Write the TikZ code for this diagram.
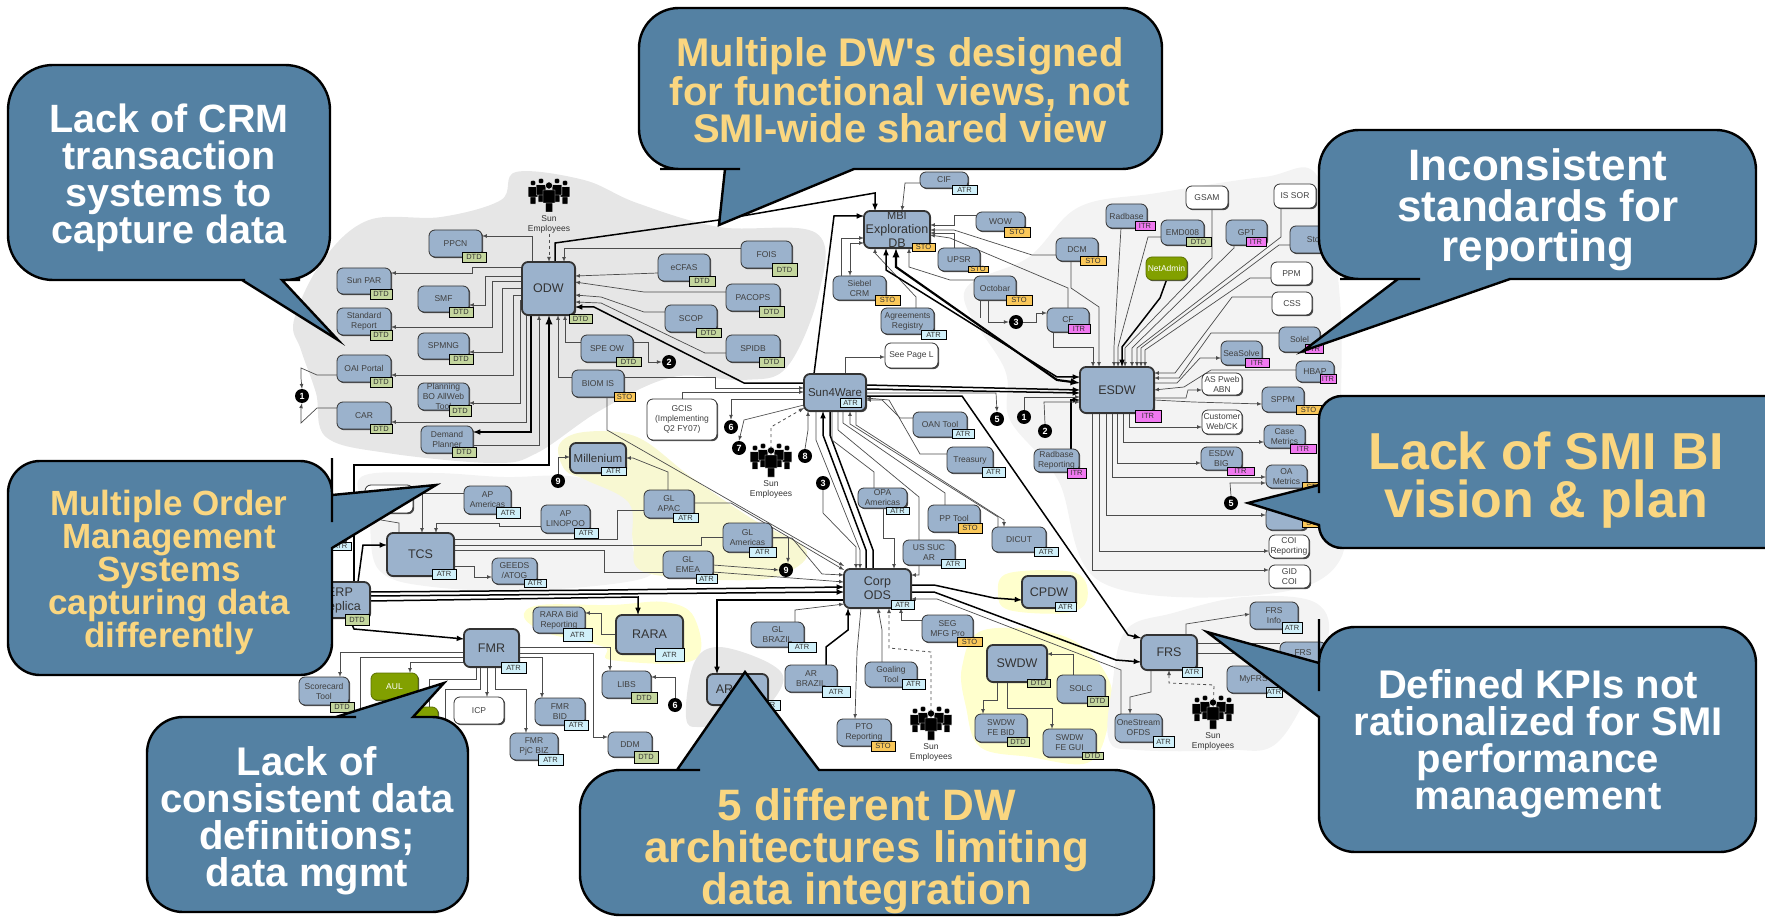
\documentclass[tikz,border=0pt]{standalone}
\usepackage{fontspec}
\setmainfont{Liberation Sans}
\usepackage{tikz}
\usetikzlibrary{shadows}

\definecolor{boxblue}{RGB}{155,178,204}
\definecolor{bubbleblue}{RGB}{84,129,163}
\definecolor{bubblegold}{RGB}{250,214,128}
\definecolor{appgreen}{RGB}{130,160,0}
\definecolor{dtdcol}{RGB}{196,214,158}
\definecolor{atrcol}{RGB}{208,240,250}
\definecolor{stocol}{RGB}{250,200,90}
\definecolor{itrcol}{RGB}{240,120,240}
\definecolor{greyblob}{RGB}{230,230,230}
\definecolor{paleblob}{RGB}{243,243,243}
\definecolor{yellowblob}{RGB}{255,255,205}
\definecolor{glblob}{RGB}{248,248,210}

\pgfdeclarelayer{blobs}
\pgfdeclarelayer{links}
\pgfdeclarelayer{bubbles}
\pgfsetlayers{blobs,links,main,bubbles}

\tikzset{
  sysbox/.style={draw=black!80,fill=boxblue,rounded corners=6pt,line width=.8pt,inner sep=0pt,outer sep=0pt,
    align=center,text=black!75,font=\fontsize{8.5}{10}\selectfont,
    drop shadow={shadow xshift=1.2pt,shadow yshift=-1.2pt,fill=black!70,opacity=1}},
  hubbox/.style={sysbox,line width=1.8pt,text=black!80,font=\fontsize{12.5}{14}\selectfont},
  whitebox/.style={sysbox,fill=white},
  greenbox/.style={sysbox,fill=appgreen,draw=appgreen!70!black,text=white},
  tagbox/.style={draw=black,line width=.7pt,inner sep=0pt,outer sep=0pt,font=\fontsize{7.5}{8}\selectfont,text=black!80},
  DTD/.style={fill=dtdcol},
  ATR/.style={fill=atrcol},
  STO/.style={fill=stocol},
  ITR/.style={fill=itrcol},
  marker/.style={circle,fill=black,text=white,inner sep=0pt,minimum size=14pt,font=\bfseries\fontsize{9}{9}\selectfont},
  stafflabel/.style={align=center,inner sep=0pt,text=black!80,font=\fontsize{8.5}{10.5}\selectfont},
  link/.style={draw=black!70,line width=.7pt},
  heavy/.style={draw=black,line width=1.5pt},
  vheavy/.style={draw=black,line width=2.2pt},
  staffdash/.style={draw=black!70,line width=.8pt,dashed},
  bubble/.style={draw=black,fill=bubbleblue,line width=2.4pt},
  bubbletext/.style={align=center,inner sep=0pt,font=\bfseries},
  people/.pic={
    \foreach \px/\py/\ps in {-16/-3/.8,16/-3/.8,-8/-5/.8,8/-5/.8,0/2/1}
      \filldraw[fill=black,draw=white,line width=.4pt,shift={(\px,\py)},scale=\ps]
        (0,-12.5) circle (3.6pt) (-6,-8) rectangle (6,5) (-3.5,5) rectangle (3.5,14);
  }
}

\begin{document}
\begin{tikzpicture}[x=1pt,y=-1pt,>=latex]
\useasboundingbox (0,0) rectangle (1765,917);

% background regions
\begin{pgfonlayer}{blobs}
\fill[greyblob] plot[smooth cycle,tension=.6] coordinates {(516,172) (584,180) (637,203) (719,227) (816,233) (819,293) (787,367) (744,380) (673,377) (601,410) (537,453) (494,463) (387,453) (326,437) (316,393) (301,350) (294,320) (323,260) (369,220) (441,217) (501,200)};
\fill[paleblob] plot[smooth cycle,tension=.6] coordinates {(361,477) (433,473) (504,477) (576,477) (629,500) (633,550) (647,577) (540,590) (433,587) (379,570) (369,517)};
\fill[glblob] plot[smooth cycle,tension=.6] coordinates {(559,445) (584,432) (637,437) (691,477) (754,520) (804,547) (797,567) (754,580) (647,573) (633,543) (629,503) (586,480) (565,470)};
\fill[yellowblob] plot[smooth cycle,tension=.6] coordinates {(524,617) (540,605) (611,605) (665,602) (694,617) (694,660) (611,660) (604,647) (547,633)};
\fill[yellowblob] plot[smooth cycle,tension=.6] coordinates {(998,593) (1009,573) (1076,573) (1087,600) (1066,613) (1009,610)};
\fill[yellowblob] plot[smooth cycle,tension=.6] coordinates {(962,667) (984,630) (1066,637) (1109,680) (1107,730) (1087,763) (1030,757) (980,747) (966,707)};
\fill[greyblob] plot[smooth cycle,tension=.6] coordinates {(686,717) (694,663) (719,647) (769,663) (783,683) (754,717) (701,727)};
\fill[paleblob] plot[smooth cycle,tension=.6] coordinates {(964,293) (1029,257) (1079,207) (1157,193) (1264,177) (1318,177) (1340,300) (1340,450) (1340,560) (1258,595) (1101,582) (1058,480) (1010,420) (1005,370)};
\fill[paleblob] plot[smooth cycle,tension=.6] coordinates {(1126,630) (1173,613) (1244,597) (1316,603) (1326,647) (1280,740) (1226,750) (1137,750) (1109,740) (1112,687)};
\end{pgfonlayer}

% big systems
\foreach \nm/\lx/\ty/\rx/\by/\txt in {
  odw/522/262/575/315/ODW, mbi/864/211/930/248/{\fontsize{11}{12}\selectfont MBI\\Exploration\\DB}, sunware/804/374/866/411/{\fontsize{11.5}{12}\selectfont Sun4Ware},
  esdw/1080/367/1154/413/ESDW, corp/844/569/911/608/{Corp\\ODS}, tcs/387/533/454/576/TCS,
  fmr/464/629/519/667/FMR, rara/616/615/683/654/RARA, swdw/987/645/1047/682/SWDW,
  cpdw/1022/576/1076/608/CPDW, frs/1141/635/1197/670/FRS, millenium/570/443/626/473/{\fontsize{11.5}{12}\selectfont Millenium},
  erp/310/582/370/618/{ERP\\Replica}, arhub/707/674/768/705/{AR\hspace{26pt}}}
  \node[hubbox,minimum width={(\rx-\lx)*1pt},minimum height={(\by-\ty)*1pt}] (\nm) at ({(\lx+\rx)/2},{(\ty+\by)/2}) {\txt};

% small systems
\foreach \nm/\lx/\ty/\rx/\by/\txt in {
  ppcn/429/230/482/257/PPCN, sunpar/337/268/391/294/Sun PAR, smf/418/286/469/312/SMF,
  stdrep/337/308/391/335/{Standard\\Report}, spmng/418/333/469/359/SPMNG, oai/337/355/391/382/OAI Portal,
  planning/418/383/469/410/{Planning\\BO AllWeb\\Tool}, car/337/402/391/429/CAR, demand/421/426/473/453/{Demand\\Planner},
  fois/741/241/792/268/FOIS, ecfas/658/254/710/281/eCFAS, pacops/726/284/780/311/PACOPS,
  scop/665/305/717/332/SCOP, spidb/726/335/780/362/SPIDB, speow/581/335/633/362/SPE OW, biomis/572/370/624/397/BIOM IS,
  cif/920/172/968/188/CIF, wow/976/212/1025/231/WOW, upsr/938/248/980/271/UPSR, dcm/1056/238/1098/261/DCM,
  siebel/833/276/886/300/{Siebel\\CRM}, agree/881/308/934/334/{Agreements\\Registry}, octobar/974/276/1016/300/Octobar,
  cfnode/1047/308/1089/332/CF, radbase/1106/204/1147/228/Radbase, emd/1161/220/1204/245/EMD008, gpt/1226/220/1267/245/GPT,
  stock/1290/226/1345/253/Stock, sola/1279/327/1320/352/Solel, seasolve/1221/341/1262/365/SeaSolve, hrap/1296/361/1334/382/HBAP,
  sppm/1262/387/1304/412/SPPM, casem/1264/425/1305/448/{Case\\Metrics}, esdwbig/1201/447/1242/470/{ESDW\\BIG},
  oamet/1266/465/1307/488/{OA\\Metrics}, hidbox/1266/507/1307/530/{}, radrep/1034/449/1079/472/{Radbase\\Reporting},
  oan/913/412/967/437/OAN Tool, treasury/947/447/993/473/Treasury, opa/858/488/907/508/{OPA\\Americas},
  pptool/928/505/980/532/PP Tool, dicut/992/527/1046/552/DICUT, ussuc/903/540/955/565/{US SUC\\AR},
  seg/922/615/973/642/{SEG\\MFG Pro}, solc/1057/675/1105/703/SOLC, fedbid/975/714/1027/742/{SWDW\\FE BID},
  fegui/1043/729/1096/757/{SWDW\\FE GUI}, goaling/865/662/917/687/{Goaling\\Tool}, arbraz/785/665/837/692/{AR\\BRAZIL},
  glbraz/751/622/804/647/{GL\\BRAZIL}, ptorep/837/719/891/746/{PTO\\Reporting}, frsinfo/1250/602/1298/629/{FRS\\Info},
  frssub/1280/642/1326/663/FRS, myfrs/1227/666/1280/693/MyFRS, onestream/1115/714/1162/742/{OneStream\\OFDS},
  apam/464/486/511/514/{AP\\Americas}, aplin/541/505/590/533/{AP\\LINOPOO}, glapac/644/490/694/518/{GL\\APAC},
  glam/723/523/772/552/{GL\\Americas}, glemea/663/551/713/578/{GL\\EMEA}, geeds/492/558/537/584/{GEEDS\\/ATOG},
  hidden/295/520/346/545/{}, rarabid/533/607/585/633/{RARA Bid\\Reporting}, libs/602/671/651/698/LIBS,
  fmrbid/535/698/585/725/{FMR\\BID}, fmrpjc/510/733/558/760/{FMR\\PjC BIZ}, ddm/608/732/652/757/DDM,
  scorecard/299/677/349/705/{Scorecard\\Tool}}
  \node[sysbox,minimum width={(\rx-\lx)*1pt},minimum height={(\by-\ty)*1pt}] (\nm) at ({(\lx+\rx)/2},{(\ty+\by)/2}) {\txt};

% white and green boxes
\foreach \nm/\lx/\ty/\rx/\by/\txt in {
  gcis/647/399/717/440/{GCIS\\(Implementing\\Q2 FY07)}, seepage/885/343/938/368/See Page L, gsam/1186/186/1228/209/GSAM,
  issor/1274/184/1316/208/IS SOR, ppm/1271/262/1312/285/PPM, css/1272/292/1312/315/CSS,
  aspweb/1202/373/1242/395/{AS Pweb\\ABN}, customer/1202/410/1242/434/{Customer\\Web/CK}, coirep/1269/535/1309/558/{COI\\Reporting},
  gidcoi/1269/565/1310/588/{GID\\COI}, icp/454/697/504/724/ICP, whitehid/365/485/413/513/{}}
  \node[whitebox,minimum width={(\rx-\lx)*1pt},minimum height={(\by-\ty)*1pt}] (\nm) at ({(\lx+\rx)/2},{(\ty+\by)/2}) {\txt};
\foreach \nm/\lx/\ty/\rx/\by/\txt in {
  netadmin/1146/257/1187/280/NetAdmin, aul/371/673/418/700/AUL, greenhid/400/707/438/725/{}}
  \node[greenbox,minimum width={(\rx-\lx)*1pt},minimum height={(\by-\ty)*1pt}] (\nm) at ({(\lx+\rx)/2},{(\ty+\by)/2}) {\txt};

% tags
\foreach \nm/\kd/\lx/\ty/\rx/\by in {
  odw/DTD/569/314/592/323, ppcn/DTD/462/252/486/262, sunpar/DTD/370/289/392/299, smf/DTD/449/307/473/317,
  stdrep/DTD/370/330/392/340, spmng/DTD/449/354/473/364, oai/DTD/370/377/392/387, planning/DTD/449/405/471/416,
  car/DTD/370/424/392/433, demand/DTD/452/447/476/457, fois/DTD/772/263/797/276, ecfas/DTD/689/276/715/286,
  pacops/DTD/759/306/784/317, scop/DTD/696/328/721/337, spidb/DTD/759/357/784/367, speow/DTD/616/357/641/366,
  biomis/STO/614/392/635/401, sunware/ATR/840/398/861/407, millenium/ATR/601/467/626/475, cif/ATR/952/185/977/194,
  mbi/STO/912/243/935/251, wow/STO/1004/227/1030/237, upsr/STO/968/266/988/272, dcm/STO/1080/256/1106/265,
  siebel/STO/875/295/900/305, agree/ATR/921/330/946/339, octobar/STO/1006/295/1032/305, cfnode/ITR/1068/324/1090/333,
  esdw/ITR/1135/410/1161/422, radbase/ITR/1135/221/1155/230, emd/DTD/1186/237/1211/246, gpt/ITR/1246/237/1266/246,
  sola/ITR/1305/344/1323/353, seasolve/ITR/1245/358/1269/367, hrap/ITR/1320/374/1336/383, sppm/STO/1296/405/1321/414,
  casem/ITR/1290/444/1316/453, esdwbig/ITR/1227/467/1254/475, oamet/STO/1302/482/1326/491, hidbox/STO/1302/518/1326/527,
  radrep/ITR/1067/468/1086/478, oan/ATR/952/429/974/438, treasury/ATR/982/467/1005/477, opa/ATR/886/507/909/514,
  pptool/STO/958/523/982/533, dicut/ATR/1034/547/1058/556, ussuc/ATR/941/559/965/568, corp/ATR/891/600/914/609,
  cpdw/ATR/1055/602/1076/611, seg/STO/957/637/982/646, swdw/DTD/1027/679/1050/687, solc/DTD/1087/696/1108/706,
  fedbid/DTD/1007/737/1029/746, fegui/DTD/1082/752/1103/759, goaling/ATR/902/679/925/689, arbraz/ATR/822/686/850/697,
  glbraz/ATR/788/642/816/652, ptorep/STO/871/741/895/751, frs/ATR/1182/667/1202/677, frsinfo/ATR/1282/622/1302/633,
  myfrs/ATR/1266/687/1282/697, onestream/ATR/1153/736/1174/747, apam/ATR/496/507/520/518, aplin/ATR/574/528/598/538,
  glapac/ATR/673/513/698/522, glam/ATR/749/547/776/557, glemea/ATR/696/574/717/583, tcs/ATR/432/569/456/579,
  geeds/ATR/524/579/546/587, erp/DTD/345/614/369/625, hidden/ATR/329/542/351/550, fmr/ATR/501/662/526/673,
  rara/ATR/655/648/684/661, rarabid/ATR/563/628/592/641, libs/DTD/631/692/657/703, fmrbid/ATR/564/720/588/730,
  fmrpjc/ATR/538/754/563/765, ddm/DTD/634/751/658/763, scorecard/DTD/330/702/354/712, arhub/ATR/756/700/780/710}
  \node[tagbox,\kd,minimum width={(\rx-\lx)*1pt},minimum height={(\by-\ty)*1pt}] (\nm tag) at ({(\lx+\rx)/2},{(\ty+\by)/2}) {\kd};

% numbered markers
\foreach \nm/\x/\y/\num in {
  mone/302/396/1, mtwo/669/362/2, msix/731/427/6, mseven/739/448/7, meight/805/456/8, mnine/558/481/9,
  mthree/1016/322/3, mthreeb/823/483/3, mfive/997/419/5, monex/1024/417/1, mtwox/1045/431/2, mfivex/1231/503/5,
  mninex/786/570/9, msixb/675/705/6}
  \node[marker] (\nm) at (\x,\y) {\num};

% sun employees
\foreach \nm/\x/\y in {topstaff/549/196, midstaff/771/461, botstaff/931/724, rightstaff/1213/713}{
  \coordinate (\nm) at (\x,\y);
  \pic at (\nm) {people};
  \node[stafflabel,anchor=north] (\nm label) at (\x,\y+19) {Sun\\Employees};
}

\begin{pgfonlayer}{links}
% around ODW
\draw[link,->] (odw.north -| 532,0) |- (ppcn.east |- 0,236);
\draw[link,->] (odw.west |- 0,267) -- (472,267) -- (472,273) -- (sunpar.east |- 0,273);
\draw[link,->] (odw.west |- 0,276) -- (485,276) -- (485,305) -- (smf.east |- 0,305);
\draw[link,->] (odw.west |- 0,281) -- (492,281) -- (492,327) -- (stdrep.east |- 0,327);
\draw[link,->] (odw.west |- 0,288) -- (502,288) -- (502,352) -- (spmng.east |- 0,352);
\draw[link,->] (odw.west |- 0,295) -- (513,295) -- (513,375) -- (oai.east |- 0,375);
\draw[link,->] (odw.west |- 0,300) -- (520,300) -- (520,403) -- (planning.east |- 0,403);
\draw[heavy,link,->] (odw.south -| 526,0) -- (526,422) -- (car.east |- 0,422);
\draw[heavy,->] (odw.south -| 531,0) -- (531,432) -- (demand.east |- 0,432);
\draw[link,<-] (odw.south -| 539,0) -- (539,445) -- (demand.east |- 0,445);
\draw[vheavy,->] (erp.north -| 354,0) -- (354,465) -- (549,465) -- (odw.south -| 549,0);
\draw[link,->] (oai.west |- 0,375) -- (317,375) -- (301,368) -- (301,378) -- (mone.north);
\draw[link,->] (car.west |- 0,408) -- (317,408) -- (301,423) -- (301,408) -- (mone.south);
\draw[link,<-] (odw.south -| 565,0) -- (565,342) -- (speow.west |- 0,342);
\draw[link,<-] (odw.south -| 558,0) -- (558,377) -- (biomis.west |- 0,377);
\draw[link,<-] (odw.north -| 564,0) -- (564,248) -- (fois.west |- 0,248);
\draw[link,<-] (odw.east |- 0,276) -- (ecfas.west |- 0,273);
\draw[link,<-] (odw.east |- 0,282) -- (644,292) -- (pacops.west |- 0,292);
\draw[link,<-] (odw.east |- 0,295) -- (601,297) -- (644,312) -- (scop.west |- 0,312);
\draw[link,<-] (odw.east |- 0,302) -- (601,303) -- (705,353) -- (spidb.west |- 0,353);
\draw[heavy,<-] (odw.east |- 0,307) -- (594,307) -- (744,383) -- (sunware.west |- 0,383);
\draw[staffdash,->] (topstafflabel.south) -- (odw.north -| topstafflabel.south);
\draw[heavy,->] (odw.north -| 555,0) -- (555,243) -- (719,220) -- (875,193) -- (mbi.north -| 875,0);
\draw[link,->] (speow.east |- 0,342) -- (648,342) -- (648,362) -- (mtwo.west);
\draw[link,->] (biomis.east |- 0,377) -- (715,377) -- (715,388) -- (sunware.west |- 0,388);
\draw[link,->] (biomis.south -| 607,0) -- (607,430) -- (corp.west |- 0,566);
\draw[link,->] (gcis.north -| 682,0) -- (682,392) -- (sunware.west |- 0,392);
\draw[link,->] (sunware.west |- 0,399) -- (731,399) -- (msix.north);
\draw[link,->] (sunware.west |- 0,405) -- (744,420) -- (mseven.north);
\draw[staffdash,->] (midstaff) -- (771,427) -- (sunware.west |- 0,408);
\draw[link,->] (meight.north) -- (808,430) -- (sunware.south -| 808,0);

% sun4ware out
\draw[heavy,<-] (sunware.south -| 823,0) -- (823,435) -- (866,550) -- (corp.north -| 866,0);
\draw[heavy] (sunware.south -| 830,0) -- (830,435) -- (873,550) -- (corp.north -| 873,0);
\draw[link,->] (sunware.south -| 816,0) -- (816,440) -- (860,550) -- (corp.north -| 860,0);
\draw[link,->] (mthreeb.south) -- (823,513) -- (856,547) -- (corp.north -| 856,0);
\draw[link,->] (sunware.south -| 838,0) -- (838,430) -- (919,497) -- (919,575) -- (corp.east |- 0,575);
\draw[link,->] (sunware.south -| 856,0) -- (856,425) -- (1004,520) -- (dicut.north -| 1004,0);
\draw[link,<-] (sunware.south -| 850,0) -- (850,424) -- (998,517) -- (dicut.north -| 998,0);
\draw[link] (pptool.north -| 945,0) -- (945,493) -- (843,423) -- (sunware.south -| 843,0);
\draw[link] (opa.north -| 874,0) -- (874,472) -- (832,440) -- (sunware.south -| 832,0);
\draw[link,->] (opa.south -| 883,0) -- (883,538) -- (894,538) -- (corp.north -| 894,0);
\draw[link,<-] (sunware.east |- 0,400) -- (882,400) -- (900,418) -- (oan.west |- 0,418);
\draw[link,<-] (sunware.east |- 0,398) -- (889,400) -- (920,454) -- (treasury.west |- 0,454);
\draw[link,->] (sunware.north -| 845,0) -- (845,357) -- (seepage.west |- 0,357);
\draw[heavy,->] (sunware.east |- 0,385) -- (esdw.west |- 0,390);
\draw[heavy,->] (sunware.east |- 0,389) -- (esdw.west |- 0,393);
\draw[link,->] (sunware.east |- 0,393) -- (996,393) -- (mfive.north);
\draw[heavy,->] (sunware.east |- 0,396) -- (962,396) -- (1128,635) -- (frs.west |- 0,638);
\draw[heavy,->] (sunware.north -| 814,0) -- (834,216) -- (mbi.west |- 0,216);

% MBI
\draw[link,->] (cif.west |- 0,183) -- (905,183) -- (mbi.north -| 902,0);
\draw[link,<-] (mbi.east |- 0,225) -- (954,225) -- (954,215) -- (wow.west |- 0,215);
\draw[link,<-] (mbi.east |- 0,233) -- (954,233) -- (upsr.north -| 954,0);
\draw[link,<-] (mbi.east |- 0,230) -- (954,230) -- (1032,255) -- (dcm.west |- 0,255);
\draw[link,<-] (mbi.east |- 0,235) -- (950,238) -- (1068,288) -- (cfnode.north -| 1068,0);
\draw[link,->] (octobar.west |- 0,280) -- (950,280) -- (909,267) -- (mbi.south -| 909,0);
\draw[link,->] (octobar.south -| 988,0) -- (988,322) -- (mthree.west);
\draw[link] (octobar.south -| 980,0) -- (980,318);
\draw[link,->] (mthree.east) -- (1036,322) -- (1036,313) -- (cfnode.west |- 0,313);
\draw[link,<->] (siebel.north -| 850,0) -- (850,243) -- (mbi.west |- 0,243);
\draw[link,->] (siebel.north -| 841,0) -- (841,238) -- (mbi.west |- 0,238);
\draw[link,->] (agree.north -| 916,0) -- (916,297) -- (875,253) -- (mbi.south -| 875,0);
\draw[heavy,<->] (mbi.south -| 886,0) -- (886,270) -- (1057,377) -- (esdw.west |- 0,377);
\draw[vheavy,<->] (mbi.south -| 896,0) -- (896,267) -- (1057,380) -- (esdw.west |- 0,383);

% into ESDW from above
\draw[link,->] (radbase.south -| 1121,0) -- (1114,347) -- (esdw.north -| 1114,0);
\draw[link,->] (emd.west |- 0,237) -- (1148,237) -- (1118,347) -- (esdw.north -| 1118,0);
\draw[link,->] (dcm.south -| 1071,0) -- (1071,288) -- (1099,307) -- (esdw.north -| 1099,0);
\draw[link,->] (cfnode.south -| 1053,0) -- (1053,347) -- (1093,347) -- (esdw.north -| 1093,0);
\draw[heavy,->] (netadmin.south) -- (1160,298) -- (1122,347) -- (esdw.north -| 1122,0);
\draw[link,->] (gsam.south -| 1212,0) -- (1212,258) -- (1125,348) -- (esdw.north -| 1125,0);
\draw[link,->] (gpt.south -| 1234,0) -- (1234,248) -- (1132,348) -- (esdw.north -| 1132,0);
\draw[link,->] (issor.south -| 1281,0) -- (1281,237) -- (1137,348) -- (esdw.north -| 1137,0);
\draw[link,->] (stock.west |- 0,245) -- (1279,245) -- (1141,348) -- (esdw.north -| 1141,0);
\draw[link,->] (ppm.west |- 0,278) -- (1250,278) -- (1145,350) -- (esdw.north -| 1145,0);
\draw[link,->] (css.west |- 0,297) -- (1232,297) -- (1175,373) -- (esdw.east |- 0,373);
\draw[link,->] (sola.west |- 0,333) -- (1211,333) -- (1179,378) -- (esdw.east |- 0,378);
\draw[link,->] (esdw.east |- 0,383) -- (1177,383) -- (1200,358) -- (seasolve.west |- 0,358);
\draw[link,->] (hrap.west |- 0,370) -- (1211,370) -- (1184,387) -- (esdw.east |- 0,390);
\draw[link,->] (esdw.east |- 0,398) -- (1186,398) -- (1188,390) -- (aspweb.west |- 0,390);
\draw[link,->] (esdw.east |- 0,400) -- (1193,402) -- (sppm.west |- 0,404);
\draw[link,->] (esdw.south -| 1129,0) -- (1129,427) -- (customer.west |- 0,427);
\draw[link,->] (esdw.south -| 1123,0) -- (1123,442) -- (casem.west |- 0,442);
\draw[link,->] (esdw.south -| 1117,0) -- (1117,463) -- (esdwbig.west |- 0,463);
\draw[link,->] (esdw.south -| 1112,0) -- (1112,477) -- (oamet.west |- 0,477);
\draw[link,->] (mfivex.north) -- (1230,483) -- (oamet.west |- 0,483);
\draw[link,->] (esdw.south -| 1106,0) -- (1106,515) -- (hidbox.west |- 0,515);
\draw[link,->] (esdw.south -| 1099,0) -- (1099,551) -- (coirep.west |- 0,551);
\draw[link,->] (esdw.south -| 1092,0) -- (1092,570) -- (gidcoi.west |- 0,570);
\draw[heavy,->] (radrep.north -| 1071,0) -- (1071,400) -- (esdw.west |- 0,400);
\draw[link,->] (monex.north) -- (1024,397) -- (esdw.west |- 0,397);
\draw[link,->] (mtwox.north) -- (1044,402) -- (esdw.west |- 0,402);

% corp ods
\draw[heavy,->] (corp.east |- 0,585) -- (934,585) -- (994,598) -- (cpdw.west |- 0,600);
\draw[heavy,->] (corp.east |- 0,592) -- (934,592) -- (1116,660) -- (frs.west |- 0,662);
\draw[link,<-] (corp.east |- 0,599) -- (937,599) -- (1121,670) -- (onestream.north -| 1121,0);
\draw[staffdash,->] (botstaff) -- (931,652) -- (889,648) -- (corp.south -| 889,0);
\draw[link,->] (seg.west |- 0,620) -- (901,620) -- (corp.south -| 901,0);
\draw[link,->] (goaling.north -| 882,0) -- (882,630) -- (corp.south -| 878,0);
\draw[link,->] (corp.south -| 861,0) -- (857,652) -- (ptorep.north -| 855,0);
\draw[heavy,->] (arbraz.north -| 826,0) -- (826,647) -- (848,630) -- (corp.south -| 848,0);
\draw[link,->] (glbraz.north -| 795,0) -- (795,610) -- (corp.west |- 0,604);
\draw[link] (tcs.east |- 0,539) -- (617,539) -- (617,510) -- (glapac.west |- 0,510);
\draw[link] (tcs.east |- 0,545) -- (701,545) -- (701,537) -- (glam.west |- 0,537);
\draw[link] (tcs.east |- 0,550) -- (604,550) -- (604,572) -- (glemea.west |- 0,572);
\draw[link,->] (aplin.west |- 0,526) -- (499,526) -- (499,523) -- (436,523) -- (tcs.north -| 436,0);
\draw[link,->] (apam.west |- 0,493) -- (422,493) -- (tcs.north -| 422,0);
\draw[link] (whitehid.south -| 381,0) -- (381,520) -- (399,523) -- (tcs.north -| 399,0);
\draw[link,->] (tcs.east |- 0,566) -- (474,566) -- (474,577) -- (geeds.west |- 0,577);
\draw[heavy,->] (erp.north -| 358,0) -- (363,545) -- (tcs.west |- 0,545);
\draw[heavy,->] (erp.east |- 0,592) -- (608,590) -- (corp.west |- 0,587);
\draw[heavy,->] (erp.east |- 0,596) -- (608,594) -- (corp.west |- 0,592);
\draw[heavy,->] (erp.east |- 0,601) -- (638,597) -- (rara.north -| 638,0);
\draw[heavy,->] (erp.south -| 349,0) -- (354,629) -- (fmr.west |- 0,639);
\draw[heavy,->] (corp.west |- 0,600) -- (717,600) -- (arhub.north -| 717,0);
\draw[link,->] (glapac.east |- 0,503) -- (731,503) -- (corp.west |- 0,570);
\draw[link,->] (glapac.north -| 668,0) -- (668,472) -- (633,458) -- (millenium.east |- 0,458);
\draw[link,->] (mnine.north) -- (558,457) -- (millenium.west |- 0,457);
\draw[link,->] (glam.east |- 0,537) -- (788,537) -- (mninex.north -| 788,0);
\draw[link,->] (glam.east |- 0,538) -- (792,538) -- (822,574) -- (corp.west |- 0,575);
\draw[link,->] (glemea.east |- 0,565) -- (mninex.west);
\draw[link,->] (glemea.east |- 0,572) -- (corp.west |- 0,582);

% FMR
\draw[link,->] (fmr.east |- 0,647) -- (610,647) -- (libs.north -| 610,0);
\draw[link,->] (fmr.east |- 0,653) -- (593,653) -- (593,737) -- (ddm.west |- 0,737);
\draw[link,->] (fmr.east |- 0,657) -- (542,657) -- (fmrbid.north -| 542,0);
\draw[link,->] (fmr.south -| 495,0) -- (495,689) -- (526,689) -- (fmrpjc.north -| 526,0);
\draw[link,->] (fmr.south -| 487,0) -- (icp.north -| 487,0);
\draw[link,->] (fmr.west |- 0,662) -- (410,662) -- (aul.north -| 410,0);
\draw[link,->] (fmr.west |- 0,652) -- (340,652) -- (scorecard.north -| 340,0);
\draw[link] (fmr.west |- 0,657) -- (360,657) -- (360,720);
\draw[link] (fmr.south -| 476,0) -- (476,679) -- (429,679) -- (greenhid.north -| 429,0);
\draw[link] (fmr.south -| 480,0) -- (480,689) -- (445,689) -- (445,730);
\draw[link,->] (rara.west |- 0,634) -- (601,634) -- (601,613) -- (rarabid.east |- 0,613);
\draw[link,->] (msixb.north) -- (675,677) -- (libs.east |- 0,677);

% SWDW and FRS
\draw[link,->] (swdw.south -| 997,0) -- (997,700) -- (983,700) -- (fedbid.north -| 983,0);
\draw[link,->] (swdw.south -| 1007,0) -- (1007,708) -- (1052,708) -- (fegui.north -| 1052,0);
\draw[link,->] (solc.north -| 1073,0) -- (1073,654) -- (swdw.east |- 0,654);
\draw[link,->] (frs.north -| 1186,0) -- (1186,624) -- (frsinfo.west |- 0,614);
\draw[link] (frs.east |- 0,643) -- (frssub.west |- 0,643);
\draw[link] (frs.east |- 0,653) -- (frssub.west |- 0,653);
\draw[staffdash,->] (rightstaff) -- (1214,685) -- (1169,683) -- (frs.south -| 1169,0);
\draw[link,->] (frs.south -| 1151,0) -- (1151,692) -- (1130,697) -- (onestream.north -| 1130,0);
\end{pgfonlayer}

% call-outs
\begin{pgfonlayer}{bubbles}
\draw[bubble] (242,280) -- (338,340) -- (282,280) -- (300,280) [rounded corners=45pt] -- (330,280) -- (330,65) -- (8,65) -- (8,280) -- (200,280) [sharp corners] -- cycle;
\draw[bubble] (725,169) -- (719,225) -- (854,169) -- (900,169) [rounded corners=40pt] -- (1162,169) -- (1162,8) -- (639,8) -- (639,169) -- (700,169) [sharp corners] -- cycle;
\draw[bubble] (1398,279) -- (1303,351) -- (1510,279) -- (1560,279) [rounded corners=40pt] -- (1756,279) -- (1756,130) -- (1319,130) -- (1319,279) -- (1380,279) [sharp corners] -- cycle;
\draw[bubble] (1319,485) -- (1248,503) -- (1319,525) [rounded corners=23pt] -- (1319,548) -- (1800,548) -- (1800,396) -- (1319,396) -- (1319,470) [sharp corners] -- cycle;
\draw[bubble] (1319,663) -- (1207,632) -- (1319,717) [rounded corners=36pt] -- (1319,852) -- (1756,852) -- (1756,627) -- (1319,627) -- (1319,655) [sharp corners] -- cycle;
\draw[bubble] (677,770) -- (745,672) -- (819,770) -- (850,770) [rounded corners=40pt] -- (1154,770) -- (1154,915) -- (580,915) -- (580,770) -- (660,770) [sharp corners] -- cycle;
\draw[bubble] (332,495) -- (436,485) -- (332,548) [rounded corners=32pt] -- (332,675) -- (8,675) -- (8,461) -- (332,461) -- (332,490) [sharp corners] -- cycle;
\draw[bubble] (336,717) -- (444,683) -- (413,717) -- (420,717) [rounded corners=36pt] -- (468,717) -- (468,912) -- (147,912) -- (147,717) -- (320,717) [sharp corners] -- cycle;

\node[bubbletext,text=white,font=\bfseries\fontsize{39.5}{37}\selectfont] (crmtext) at (169,178) {Lack of CRM\\transaction\\systems to\\capture data};
\node[bubbletext,text=bubblegold,font=\bfseries\fontsize{40}{37}\selectfont] (dwtext) at (900,90) {Multiple DW\textquotesingle s designed\\for functional views, not\\SMI-wide shared view};
\node[bubbletext,text=white,font=\bfseries\fontsize{44}{40.5}\selectfont] (stdtext) at (1538,210) {Inconsistent\\standards for\\reporting};
\node[bubbletext,text=bubblegold,font=\bfseries\fontsize{52}{48}\selectfont] (smitext) at (1546,480) {Lack of SMI BI\\vision \& plan};
\node[bubbletext,text=white,font=\bfseries\fontsize{40}{37}\selectfont] (kpitext) at (1538,744) {Defined KPIs not\\rationalized for SMI\\performance\\management};
\node[bubbletext,text=bubblegold,font=\bfseries\fontsize{44}{42}\selectfont] (archtext) at (867,851) {5 different DW\\architectures limiting\\data integration};
\node[bubbletext,text=bubblegold,font=\bfseries\fontsize{35}{33}\selectfont] (ordertext) at (169,572) {Multiple Order\\Management\\Systems\\capturing data\\differently};
\node[bubbletext,text=white,font=\bfseries\fontsize{40}{37}\selectfont] (defstext) at (307,821) {Lack of\\consistent data\\definitions;\\data mgmt};
\end{pgfonlayer}
\end{tikzpicture}
\end{document}
